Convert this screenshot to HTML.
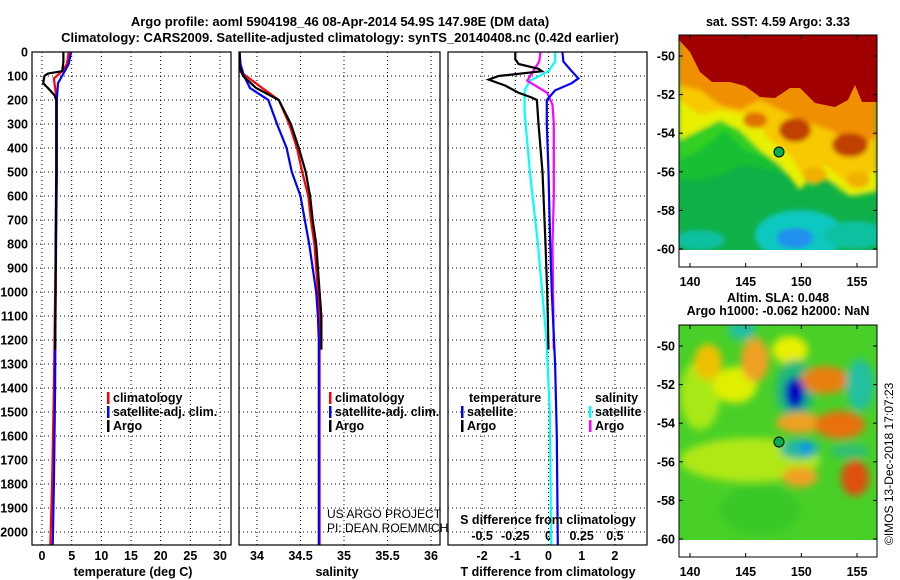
<!DOCTYPE html>
<html><head><meta charset="utf-8">
<style>
body{margin:0;background:#fff;}
svg{display:block;font-family:"Liberation Sans",Arial,sans-serif;}
.b{font-weight:bold;font-size:13px;}
.t{font-weight:bold;font-size:12.5px;}
</style></head>
<body>
<svg id="chart" width="900" height="580" viewBox="0 0 900 580" xmlns="http://www.w3.org/2000/svg">
<defs>
<filter id="bl" x="-5%" y="-5%" width="110%" height="110%"><feGaussianBlur stdDeviation="2.5"/></filter>
<filter id="bl2" x="-20%" y="-20%" width="140%" height="140%"><feGaussianBlur stdDeviation="4"/></filter>
<clipPath id="c1"><rect x="32" y="52" width="199" height="493"/></clipPath>
<clipPath id="c2"><rect x="239" y="52" width="201" height="493"/></clipPath>
<clipPath id="c3"><rect x="448" y="52" width="199" height="493"/></clipPath>
<clipPath id="m1"><rect x="679" y="35" width="198" height="215"/></clipPath>
<clipPath id="m2"><rect x="679" y="325" width="198" height="215"/></clipPath>
</defs>
<text x="340" y="26" text-anchor="middle" class="b" font-size="14">Argo profile: aoml 5904198_46 08-Apr-2014 54.9S 147.98E (DM data)</text>
<text x="340" y="42" text-anchor="middle" class="b" font-size="14">Climatology: CARS2009. Satellite-adjusted climatology: synTS_20140408.nc (0.42d earlier)</text>

<!-- map 1 -->
<g>
<text x="778" y="26" text-anchor="middle" class="t">sat. SST: 4.59 Argo: 3.33</text>
<g clip-path="url(#m1)">
<rect x="679" y="35" width="198" height="215" fill="#10b048"/>
<g filter="url(#bl)">
<ellipse cx="800" cy="235" rx="45" ry="25" fill="#10c8c0"/>
<ellipse cx="700" cy="240" rx="25" ry="10" fill="#10c0a0"/>
<ellipse cx="855" cy="235" rx="30" ry="14" fill="#10c0a0"/>
<polygon fill="#18c030" points="679,35 877,35 877,195 860,200 840,195 825,180 810,190 790,175 770,170 745,165 720,175 700,180 679,180"/>
<polygon fill="#30d020" points="679,35 877,35 877,180 820,170 790,168 770,158 745,150 725,130 700,150 679,160"/>
<polygon fill="#e8f000" points="679,35 877,35 877,190 850,195 830,180 810,175 800,190 780,165 760,150 740,130 720,120 700,130 679,140"/>
<polygon fill="#f8c800" points="679,35 877,35 877,170 850,185 825,165 805,180 790,155 770,140 750,115 720,110 700,115 679,100"/>
<polygon fill="#f09000" points="679,35 877,35 877,135 860,150 830,130 800,120 780,110 760,100 740,110 720,105 700,90 679,85"/>
<ellipse cx="815" cy="175" rx="12" ry="8" fill="#f0b000"/>
<ellipse cx="858" cy="180" rx="12" ry="8" fill="#f0b000"/>
<ellipse cx="795" cy="130" rx="16" ry="12" fill="#c04000"/>
<ellipse cx="850" cy="145" rx="18" ry="12" fill="#c04000"/>
<ellipse cx="755" cy="120" rx="12" ry="8" fill="#e07000"/>
</g>
<polygon fill="#a00000" points="679,35 877,35 877,102 862,102 855,85 848,100 835,107 815,103 800,88 790,88 775,98 760,97 745,86 730,82 712,82 700,72 690,52 679,40"/>
<ellipse cx="795" cy="238" rx="18" ry="10" fill="#2090f0" filter="url(#bl)"/>
</g>
<rect x="679" y="250" width="198" height="17" fill="#fff"/>
<circle cx="779" cy="152" r="5" fill="#00b050" stroke="#000"/>
<rect x="679" y="35" width="198" height="232" fill="none" stroke="#000"/>
<g id="map1ticks"></g>
</g>

<!-- map 2 -->
<g>
<text x="778" y="302" text-anchor="middle" class="t">Altim. SLA: 0.048</text>
<text x="778" y="315" text-anchor="middle" class="t">Argo h1000: -0.062 h2000: NaN</text>
<g clip-path="url(#m2)">
<rect x="679" y="325" width="198" height="215" fill="#48d028"/>
<g filter="url(#bl2)">
<ellipse cx="750" cy="460" rx="70" ry="22" fill="#b0e818"/>
<ellipse cx="700" cy="395" rx="20" ry="35" fill="#a8e818"/>
<ellipse cx="735" cy="385" rx="22" ry="18" fill="#e0f000"/>
<ellipse cx="708" cy="362" rx="14" ry="18" fill="#f0c000"/>
<ellipse cx="755" cy="360" rx="14" ry="22" fill="#f0a020"/>
<ellipse cx="790" cy="350" rx="18" ry="14" fill="#e8f000"/>
<ellipse cx="742" cy="330" rx="14" ry="10" fill="#20c0a0"/>
<ellipse cx="795" cy="390" rx="20" ry="30" fill="#20b878"/>
<ellipse cx="795" cy="393" rx="10" ry="16" fill="#0000c0"/>
<ellipse cx="825" cy="380" rx="24" ry="14" fill="#e88010"/>
<ellipse cx="860" cy="385" rx="14" ry="26" fill="#20c0a0"/>
<ellipse cx="800" cy="423" rx="24" ry="10" fill="#f0a020"/>
<ellipse cx="840" cy="425" rx="25" ry="14" fill="#e87010"/>
<ellipse cx="800" cy="449" rx="20" ry="10" fill="#20b8a0"/>
<ellipse cx="806" cy="448" rx="6" ry="6" fill="#0090f0"/>
<ellipse cx="850" cy="451" rx="20" ry="8" fill="#30c070"/>
<ellipse cx="800" cy="477" rx="18" ry="10" fill="#f0a020"/>
<ellipse cx="855" cy="478" rx="14" ry="18" fill="#e05010"/>
<ellipse cx="760" cy="510" rx="40" ry="25" fill="#38c828"/>
</g>
</g>
<rect x="679" y="540" width="198" height="17" fill="#fff"/>
<circle cx="779" cy="442" r="5" fill="#00b050" stroke="#000"/>
<rect x="679" y="325" width="198" height="232" fill="none" stroke="#000"/>
<g id="map2ticks"></g>
</g>
<text transform="translate(893,545) rotate(-90)" font-size="12">©IMOS 13-Dec-2018 17:07:23</text>

<g id="panels"></g>

<text x="327" y="518" font-size="12">US ARGO PROJECT</text>
<text x="327" y="532" font-size="12">PI: DEAN ROEMMICH</text>
</svg>
<script>
// depth axis
const depthTicks=[0,100,200,300,400,500,600,700,800,900,1000,1100,1200,1300,1400,1500,1600,1700,1800,1900,2000];
// temperature panel
const tempTicks=[0,5,10,15,20,25,30];
const argoTDepth=[0,40,80,90,100,130,150,180,200,300,500,800,1000,1240];
const argoT=[3.6,3.6,3.4,1.0,0.4,0.2,1.0,2.1,2.4,2.4,2.4,2.3,2.3,2.2];
const climTDepth=[0,50,80,110,150,200,500,1000,1400,1800,2060];
const climT=[4.5,4.2,3.4,2.0,2.2,2.5,2.5,2.2,2.0,1.7,1.4];
const satTDepth=[0,50,90,130,200,500,1000,1400,1800,2060];
const satT=[4.9,4.5,3.6,2.7,2.5,2.5,2.3,2.2,2.0,1.8];
// salinity panel
const salTicks=[34,34.5,35,35.5,36];
const argoSDepth=[0,60,100,150,200,300,400,500,600,700,800,900,1000,1100,1200,1240];
const argoS=[33.80,33.80,33.84,33.99,34.25,34.39,34.48,34.56,34.61,34.64,34.68,34.70,34.72,34.74,34.74,34.74];
const climSDepth=[0,80,150,200,300,400,500,600,700,800,900,1000,1100,1200,1500,2060];
const climS=[33.75,33.80,34.06,34.25,34.37,34.46,34.52,34.59,34.62,34.66,34.68,34.70,34.72,34.72,34.72,34.72];
const satSDepth=[0,50,100,150,200,300,400,500,600,700,800,900,1000,1100,1200,1500,2060];
const satS=[33.80,33.81,33.85,33.92,34.13,34.23,34.34,34.40,34.50,34.55,34.60,34.64,34.68,34.70,34.71,34.71,34.71];
// difference panel
const tDiffTicks=[-2,-1,0,1,2];
const sDiffTicks=[-0.5,-0.25,0,0.25,0.5];
const argoTdDepth=[0,30,50,70,80,100,115,140,170,190,200,300,500,800,1000,1240];
const argoTd=[-1.0,-1.0,-0.9,-0.3,-0.2,-1.5,-1.8,-1.3,-0.9,-0.5,-0.35,-0.3,-0.18,-0.09,-0.04,0];
const satTdDepth=[0,40,80,110,130,160,200,300,500,800,1000,1300,1600,2060];
const satTd=[0.42,0.45,0.7,0.9,0.7,0.2,-0.05,-0.05,0.0,0.05,0.1,0.2,0.25,0.28];
const argoSdDepth=[0,40,75,120,170,220,300,600,800,1240];
const argoSd=[-0.06,-0.07,-0.11,-0.16,-0.01,0.03,0.04,0.04,0.03,0.04];
const satSdDepth=[0,40,80,120,160,250,500,800,1200,1500,2060];
const satSd=[0.05,0.05,0.0,-0.14,-0.18,-0.18,-0.14,-0.08,-0.015,0.01,0.02];
// maps
const lonTicks=[140,145,150,155];
const latTicks=[-50,-52,-54,-56,-58,-60];

const NS='http://www.w3.org/2000/svg';
function mk(tag,attrs,parent){const e=document.createElementNS(NS,tag);for(const k in attrs)e.setAttribute(k,attrs[k]);parent.appendChild(e);return e;}
const yD=d=>52+0.24*d;
const xT=v=>42+v*(178/30);
const xS=v=>257+(v-34)*87;
const xTd=v=>548.5+v*33.2;
const xSd=v=>548.5+v*132.8;
const root=document.getElementById('panels');
const TOP=52,BOT=545;
const panels=[[32,231,'temperature-panel'],[239,440,'salinity-panel'],[448,647,'difference-panel']];

panels.forEach(([l,r,name],pi)=>{
  const g=mk('g',{},root);
  
  
  depthTicks.forEach(d=>{
    const ln=mk('line',{x1:l,x2:r,y1:yD(d),y2:yD(d),stroke:'#000','stroke-dasharray':'1,3','stroke-width':1},g);
    
    
  });
});

function vgrid(ticks,fx,name){
  const g=mk('g',{},root);
  
  
  ticks.forEach(t=>{
    const ln=mk('line',{x1:fx(t),x2:fx(t),y1:TOP,y2:BOT,stroke:'#000','stroke-dasharray':'1,3','stroke-width':1},g);
    
    
  });
}
vgrid(tempTicks,xT,'temperature-x-grid');
vgrid(salTicks,xS,'salinity-x-grid');
vgrid(tDiffTicks,xTd,'tdiff-x-grid');

function xlabels(ticks,fx,y,name,fmt){
  const g=mk('g',{class:'t'},root);
  
  
  ticks.forEach(t=>{
    const tx=mk('text',{x:fx(t),y:y,'text-anchor':'middle'},g);
    tx.textContent=fmt?fmt(t):String(t);
    
    
  });
}
xlabels(tempTicks,xT,560,'temperature-x-ticks');
xlabels(salTicks,xS,560,'salinity-x-ticks');
xlabels(tDiffTicks,xTd,560,'tdiff-x-ticks');
xlabels(sDiffTicks,xSd,540,'sdiff-x-ticks');

// depth labels
const dl=mk('g',{class:'t','text-anchor':'end'},root);


depthTicks.forEach(d=>{
  const tx=mk('text',{x:28,y:yD(d)+4.5},dl);
  tx.textContent=d;
  
  
});

function line(ds,vs,fx,color,clip,name){
  const pts=ds.map((d,i)=>fx(vs[i]).toFixed(1)+','+yD(d).toFixed(1)).join(' ');
  const p=mk('polyline',{points:pts,fill:'none',stroke:color,'stroke-width':2.2,'clip-path':'url(#'+clip+')'},root);
  
  
}
line(climTDepth,climT,xT,'#ff0000','c1','temp-climatology-line');
line(satTDepth,satT,xT,'#0000ff','c1','temp-satellite-line');
line(argoTDepth,argoT,xT,'#000','c1','temp-argo-line');
line(climSDepth,climS,xS,'#ff0000','c2','sal-climatology-line');
line(satSDepth,satS,xS,'#0000ff','c2','sal-satellite-line');
line(argoSDepth,argoS,xS,'#000','c2','sal-argo-line');
line(satSdDepth,satSd,xSd,'#00ffff','c3','sdiff-satellite-line');
line(argoSdDepth,argoSd,xSd,'#ff00ff','c3','sdiff-argo-line');
line(satTdDepth,satTd,xTd,'#0000ff','c3','tdiff-satellite-line');
line(argoTdDepth,argoTd,xTd,'#000','c3','tdiff-argo-line');

// frames
panels.forEach(([l,r,name])=>{
  const f=mk('rect',{x:l,y:TOP,width:r-l,height:BOT-TOP,fill:'none',stroke:'#000','stroke-width':1.2},root);
  
  
});

// axis titles
function txt(x,y,s,name,anchor,cls){
  const t=mk('text',{x:x,y:y,'text-anchor':anchor||'start',class:cls||'t'},root);
  t.textContent=s;
  
  
  return t;
}
txt(133,576,'temperature (deg C)','temperature-axis-title','middle');
txt(337,576,'salinity','salinity-axis-title','middle');
txt(548,576,'T difference from climatology','tdiff-axis-title','middle');
txt(548,524,'S difference from climatology','sdiff-axis-title','middle');

// legends
function leg(x,y,color,label,name){
  const r=mk('rect',{x:x,y:y-10,width:2.5,height:12,fill:color},root);
  
  
  txt(x+6,y,label,name,'start');
}
leg(107,402,'#ff0000','climatology','temp-legend-climatology');
leg(107,416,'#0000ff','satellite-adj. clim.','temp-legend-satellite');
leg(107,430,'#000','Argo','temp-legend-argo');
leg(329,402,'#ff0000','climatology','sal-legend-climatology');
leg(329,416,'#0000ff','satellite-adj. clim.','sal-legend-satellite');
leg(329,430,'#000','Argo','sal-legend-argo');
txt(469,402,'temperature','diff-legend-temperature-heading','start');
txt(595,402,'salinity','diff-legend-salinity-heading','start');
leg(461,416,'#0000ff','satellite','diff-legend-t-satellite');
leg(461,430,'#000','Argo','diff-legend-t-argo');
leg(589,416,'#00ffff','satellite','diff-legend-s-satellite');
leg(589,430,'#ff00ff','Argo','diff-legend-s-argo');

// map ticks
function mapTicks(gid,top,bot,lat0y,dataBot,name){
  const g=document.getElementById(gid);
  
  
  const xL=v=>690+(v-140)*(167/15);
  const yL=v=>lat0y+(-50-v)*19.3;
  lonTicks.forEach(v=>{
    mk('line',{x1:xL(v),x2:xL(v),y1:top,y2:top+4,stroke:'#000'},g);
    mk('line',{x1:xL(v),x2:xL(v),y1:bot,y2:bot-4,stroke:'#000'},g);
    const t=mk('text',{x:xL(v),y:bot+19,'text-anchor':'middle',class:'t'},g);
    t.textContent=v;
    
    
  });
  latTicks.forEach(v=>{
    mk('line',{x1:679,x2:683,y1:yL(v),y2:yL(v),stroke:'#000'},g);
    mk('line',{x1:877,x2:873,y1:yL(v),y2:yL(v),stroke:'#000'},g);
    const t=mk('text',{x:675,y:yL(v)+4.5,'text-anchor':'end',class:'t'},g);
    t.textContent=v;
    
    
  });
}
mapTicks('map1ticks',35,267,56,250,'sst-map-axes');
mapTicks('map2ticks',325,557,346,540,'sla-map-axes');
</script>
</body></html>
